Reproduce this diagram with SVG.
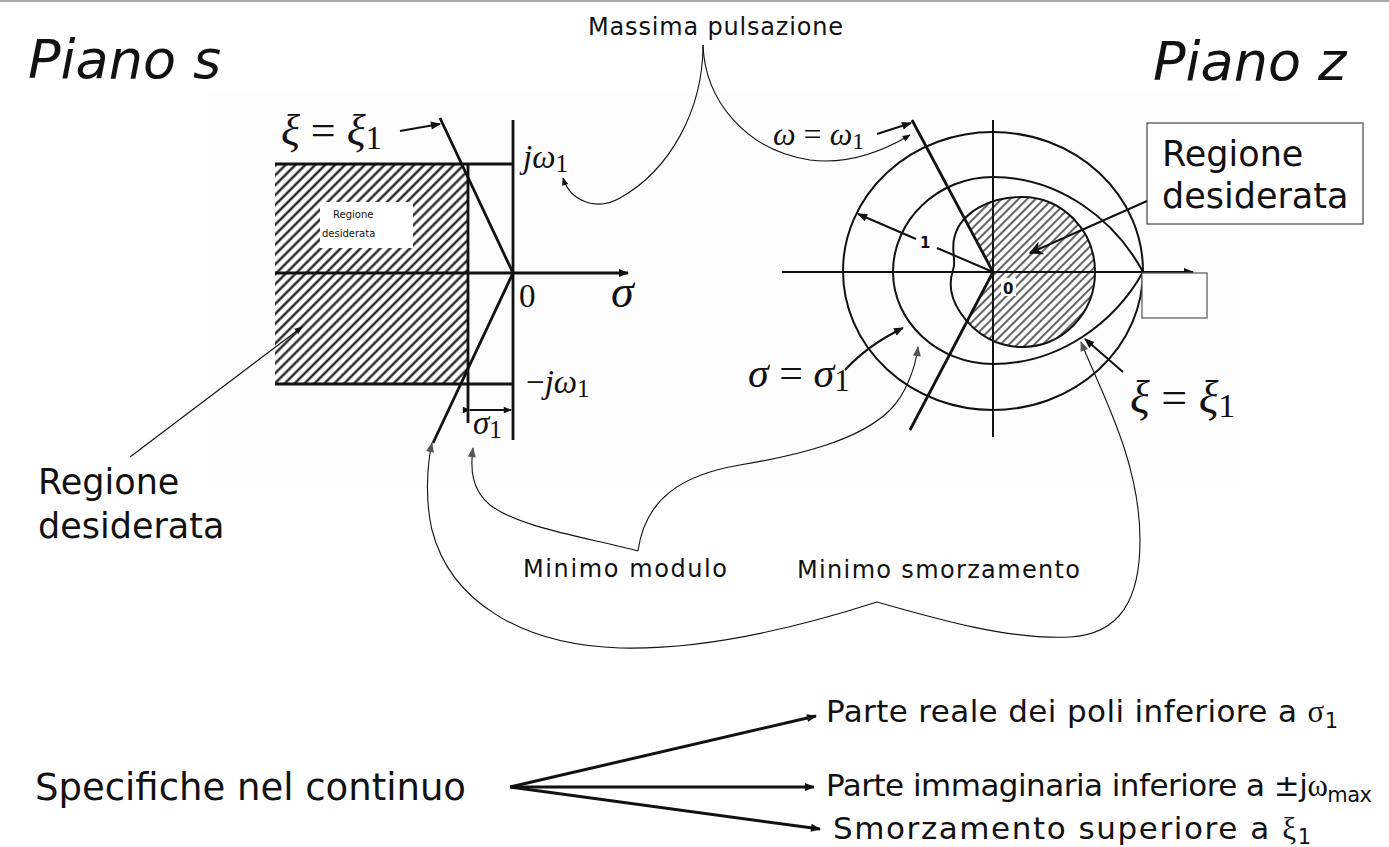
<svg xmlns="http://www.w3.org/2000/svg" width="1389" height="847" viewBox="0 0 1389 847">
<style>
.t{font-family:"DejaVu Sans","Liberation Sans",sans-serif;fill:#111}
.m{font-family:"Liberation Serif","DejaVu Serif",serif;fill:#111}
.i{font-style:italic}
.thick{stroke:#111;stroke-width:2.8;fill:none}
.med{stroke:#111;stroke-width:2;fill:none}
.thin{stroke:#111;stroke-width:1.1;fill:none}
.fan{stroke:#111;stroke-width:3;fill:none}
</style>
<defs>
<marker id="ah" viewBox="0 0 10 10" refX="9" refY="5" markerUnits="userSpaceOnUse" markerWidth="13" markerHeight="10" orient="auto"><path d="M0 1 L10 5 L0 9 Z" fill="#111"/></marker>
<marker id="ahs" viewBox="0 0 10 10" refX="9" refY="5" markerUnits="userSpaceOnUse" markerWidth="10" markerHeight="8" orient="auto"><path d="M0 1 L10 5 L0 9 Z" fill="#111"/></marker>
<marker id="ag" viewBox="0 0 10 10" refX="9" refY="5" markerUnits="userSpaceOnUse" markerWidth="13" markerHeight="10" orient="auto"><path d="M0 1 L10 5 L0 9 Z" fill="#555"/></marker>
<marker id="aopen" viewBox="0 0 10 10" refX="9" refY="5" markerUnits="userSpaceOnUse" markerWidth="22" markerHeight="14" orient="auto"><path d="M0 0 L10 5 L0 10 L3 5 Z" fill="#111"/></marker>
<pattern id="hs" width="7" height="7" patternUnits="userSpaceOnUse" patternTransform="rotate(45)"><line x1="3.5" y1="0" x2="3.5" y2="7" stroke="#111" stroke-width="2.2"/></pattern>
<pattern id="hz" width="6" height="6" patternUnits="userSpaceOnUse" patternTransform="rotate(45)"><line x1="3" y1="0" x2="3" y2="6" stroke="#111" stroke-width="1.3"/></pattern>
<clipPath id="sector"><path d="M993 272 L871 44 L1200 44 L1200 509 L868 509 Z"/></clipPath>
</defs>

<rect width="1389" height="847" fill="#fff"/>
<line x1="0" y1="1" x2="1389" y2="1" stroke="#aaa" stroke-width="2"/>
<rect x="208" y="92" width="1032" height="390" fill="#fdfdfd"/>

<g id="title-s"><text class="t i" x="28" y="78" font-size="54">Piano s</text></g>
<g id="title-z"><text class="t i" x="1153" y="80" font-size="54">Piano z</text></g>
<g id="label-massima"><text class="t" x="588" y="35" font-size="24" textLength="255">Massima pulsazione</text></g>

<g id="s-plane">
  <path d="M275 165 L462 165 L468 178 L468 368 L460 385 L275 385 Z" fill="url(#hs)"/>
  <rect x="320" y="202" width="93" height="46" fill="#fff"/>
  <text class="t" x="333" y="218" font-size="10" fill="#333">Regione</text>
  <text class="t" x="322" y="237" font-size="10" fill="#333">desiderata</text>
  <line class="thick" x1="275" y1="164" x2="513" y2="164"/>
  <line class="thick" x1="275" y1="384" x2="513" y2="384"/>
  <line class="thick" x1="468" y1="165" x2="468" y2="423"/>
  <line class="thick" x1="513" y1="120" x2="513" y2="440"/>
  <line class="thick" x1="275" y1="273" x2="628" y2="273" marker-end="url(#ah)"/>
  <polyline class="thick" points="440,118 513,273 433,443"/>
  <line class="med" x1="470" y1="410" x2="511" y2="410" marker-start="url(#ahs)" marker-end="url(#ahs)"/>
  <text class="m" x="281" y="145" font-size="44"><tspan class="i">ξ</tspan> = <tspan class="i">ξ</tspan><tspan font-size="33" dy="4">1</tspan></text>
  <line class="med" x1="400" y1="131" x2="440" y2="124" marker-end="url(#ah)"/>
  <text class="m" x="523" y="168" font-size="33"><tspan class="i">jω</tspan><tspan font-size="25" dy="4">1</tspan></text>
  <text class="m" x="519" y="307" font-size="33">0</text>
  <text class="m i" x="611" y="307" font-size="46">σ</text>
  <text class="m" x="526" y="393" font-size="33">−<tspan class="i">jω</tspan><tspan font-size="25" dy="4">1</tspan></text>
  <text class="m" x="473" y="434" font-size="33"><tspan class="i">σ</tspan><tspan font-size="25" dy="4">1</tspan></text>
</g>

<g id="label-regione-left">
  <text class="t" x="38" y="494" font-size="35">Regione</text>
  <text class="t" x="38" y="538" font-size="35">desiderata</text>
  <line class="thin" x1="130" y1="457" x2="302" y2="327" marker-end="url(#ahs)"/>
</g>

<g id="z-plane">
  <path d="M1095 272 C1095 230 1062 197 1022 197 C990 197 962 212 955 235 C950 250 957 260 953 270 C948 285 952 300 960 312 C975 335 998 347 1022 347 C1062 347 1095 314 1095 272 Z" fill="url(#hz)" clip-path="url(#sector)"/>
  <path d="M1095 272 C1095 230 1062 197 1022 197 C990 197 962 212 955 235 C950 250 957 260 953 270 C948 285 952 300 960 312 C975 335 998 347 1022 347 C1062 347 1095 314 1095 272 Z" class="med"/>
  <ellipse cx="993" cy="271" rx="150" ry="139" class="med"/>
  <path d="M1143 272 C1115 220 1060 177 993 177 C938 177 893 220 893 272 C893 322 938 364 993 364 C1060 364 1115 322 1143 272 Z" class="med"/>
  <line class="med" x1="782" y1="272" x2="1193" y2="272" marker-end="url(#ah)"/>
  <line class="med" x1="993" y1="120" x2="993" y2="437"/>
  <polyline class="thick" points="912,120 993,272 910,430"/>
  <line class="med" x1="993" y1="272" x2="937" y2="248"/>
  <line class="med" x1="916" y1="239" x2="858" y2="214" marker-end="url(#ah)"/>
  <text class="t" x="920" y="248" font-size="15" font-weight="bold">1</text>
  <rect x="1001" y="278" width="15" height="18" fill="#fff"/>
  <text class="t" x="1003" y="294" font-size="15" font-weight="bold">0</text>
  <text class="m" x="773" y="145" font-size="32" fill="#333"><tspan class="i">ω</tspan> = <tspan class="i">ω</tspan><tspan font-size="24" dy="4">1</tspan></text>
  <line class="med" x1="877" y1="134" x2="911" y2="123" marker-end="url(#ah)"/>
  <text class="m" x="748" y="387" font-size="42"><tspan class="i">σ</tspan> = <tspan class="i">σ</tspan><tspan font-size="31" dy="4">1</tspan></text>
  <path class="med" d="M845 370 Q868 345 903 328" marker-end="url(#ah)"/>
  <text class="m" x="1130" y="413" font-size="46"><tspan class="i">ξ</tspan> = <tspan class="i">ξ</tspan><tspan font-size="34" dy="4">1</tspan></text>
  <line class="med" x1="1123" y1="372" x2="1085" y2="339" marker-end="url(#ah)"/>
</g>

<g id="box-regione-z">
  <rect x="1147" y="123" width="216" height="101" fill="#fff" stroke="#444" stroke-width="1.2"/>
  <text class="t" x="1162" y="166" font-size="35">Regione</text>
  <text class="t" x="1162" y="208" font-size="35">desiderata</text>
  <line class="med" x1="1147" y1="201" x2="1030" y2="253" marker-end="url(#aopen)"/>
</g>
<g id="box-empty"><rect x="1142" y="273" width="65" height="45" fill="#fff" stroke="#555" stroke-width="1.2"/></g>

<g id="label-minimo-modulo"><text class="t" x="523" y="577" font-size="24" textLength="204">Minimo modulo</text></g>
<g id="label-minimo-smorz"><text class="t" x="797" y="578" font-size="24" textLength="283">Minimo smorzamento</text></g>

<g id="connectors">
  <path class="thin" d="M703 45 C703 110 670 170 620 198 C595 212 570 200 563 178" marker-end="url(#ahs)"/>
  <path class="thin" d="M703 45 C705 100 745 150 810 160 C850 165 885 150 910 135" marker-end="url(#ahs)"/>
  <path class="thin" d="M638 551 C590 538 520 528 490 505 C472 490 470 470 473 448" marker-end="url(#ag)"/>
  <path class="thin" d="M638 551 C645 500 680 475 740 465 C800 455 860 440 890 410 C905 395 915 370 918 347" marker-end="url(#ag)"/>
  <path class="thin" d="M877 602 C790 630 700 650 620 648 C520 645 450 600 432 530 C425 500 427 465 432 443" marker-end="url(#ag)"/>
  <path class="thin" d="M877 602 C940 620 1010 640 1070 637 C1120 634 1140 600 1140 540 C1140 460 1100 390 1081 342" marker-end="url(#ag)"/>
</g>

<g id="label-specifiche"><text class="t" x="35" y="800" font-size="37">Specifiche nel continuo</text></g>
<g id="fan">
  <line class="fan" x1="510" y1="787" x2="816" y2="716" marker-end="url(#ah)"/>
  <line class="fan" x1="510" y1="787" x2="814" y2="787" marker-end="url(#ah)"/>
  <line class="fan" x1="510" y1="787" x2="820" y2="829" marker-end="url(#ah)"/>
</g>
<g id="spec-1"><text class="t" x="826" y="722" font-size="31" textLength="512">Parte reale dei poli inferiore a <tspan font-family="Liberation Serif,serif">σ</tspan><tspan font-size="21" dy="6">1</tspan></text></g>
<g id="spec-2"><text class="t" x="826" y="796" font-size="31" textLength="546">Parte immaginaria inferiore a ±j<tspan font-family="Liberation Serif,serif">ω</tspan><tspan font-size="21" dy="6">max</tspan></text></g>
<g id="spec-3"><text class="t" x="833" y="839" font-size="31" textLength="478">Smorzamento superiore a <tspan font-family="Liberation Serif,serif">ξ</tspan><tspan font-size="21" dy="5">1</tspan></text></g>
</svg>
